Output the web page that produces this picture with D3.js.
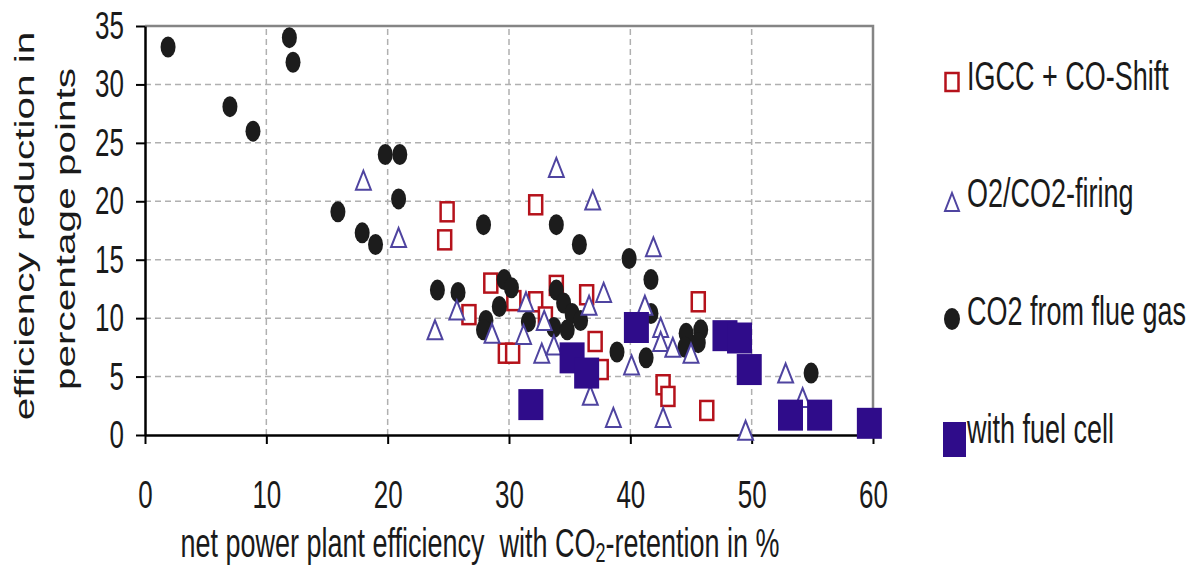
<!DOCTYPE html>
<html>
<head>
<meta charset="utf-8">
<script src="https://cdn.jsdelivr.net/npm/d3@7"></script>
<style>
  body { margin: 0; background: #fff; }
  text { font-family: "Liberation Sans", Arial, sans-serif; fill: #1a1a1a; }
</style>
</head>
<body>
<div id="chart"></div>
<script>
var width = 1192;
var height = 569;

// data: [efficiency %, reduction points]
var igcc = [[24.9,19.1],[24.7,16.7],[32.2,19.7],[28.5,13.0],[26.7,10.3],[29.7,7.0],[30.3,7.0],
  [30.4,11.5],[32.2,11.4],[33.0,10.1],[33.9,12.8],[36.4,12.0],[37.1,8.0],[37.6,5.6],
  [42.7,4.3],[43.1,3.3],[45.6,11.4],[46.3,2.1]];
var oxyfuel = [[18.0,21.8],[20.9,16.9],[23.9,9.0],[25.7,10.7],[28.6,8.7],[31.4,11.4],[31.2,8.6],
  [32.9,9.8],[32.7,7.0],[33.7,7.7],[33.9,22.9],[36.9,20.1],[36.6,11.1],[37.8,12.2],[36.7,3.4],
  [38.6,1.5],[41.9,16.1],[41.2,11.1],[42.5,9.2],[42.5,8.0],[40.1,6.0],[42.7,1.5],[43.5,7.5],
  [45.0,7.0],[49.5,0.4],[52.8,5.3],[54.2,3.2]];
var flueGas = [[1.9,33.2],[7.0,28.1],[8.9,26.0],[11.9,34.0],[12.2,31.9],[15.9,19.1],[17.9,17.3],
  [19.0,16.3],[19.8,24.0],[21.0,24.0],[20.9,20.2],[24.1,12.4],[25.8,12.2],[27.9,18.0],[28.1,9.8],
  [27.9,9.0],[29.2,11.0],[29.6,13.3],[30.2,12.6],[31.6,9.7],[33.9,18.0],[35.8,16.3],[33.9,12.4],
  [34.5,11.3],[33.7,9.2],[35.2,10.4],[35.9,9.8],[34.8,9.0],[38.9,7.1],[39.9,15.1],[41.7,13.3],
  [41.7,10.4],[41.3,6.6],[44.6,8.7],[44.5,7.5],[45.8,9.0],[45.6,7.9],[54.9,5.3]];
var fuelCell = [[31.8,2.6],[35.2,6.6],[36.4,5.3],[40.5,9.2],[47.8,8.5],[49.0,8.3],[49.8,5.6],
  [53.2,1.7],[55.6,1.7],[59.7,1.0]];

var xTicks = [0,10,20,30,40,50,60];
var yTicks = [0,5,10,15,20,25,30,35];
var legendLabels = ["IGCC + CO-Shift", "O2/CO2-firing", "CO2 from flue gas", "with fuel cell"];

var red = "#b5121b", violet = "#4f44a0", black = "#1c1c1c", indigo = "#2f0c8a";
var stretch = "scale(1,1.5)";

var svg = d3.select("#chart").append("svg")
  .attr("width", width)
  .attr("height", height);

var x = d3.scaleLinear().domain([0, 60]).range([145, 873]);
var y = d3.scaleLinear().domain([0, 35]).range([435, 26]);

// grid
svg.append("g").selectAll("line")
  .data(yTicks.filter(d => d > 0 && d < 35))
  .enter().append("line")
  .attr("x1", x(0)).attr("x2", x(60))
  .attr("y1", d => y(d)).attr("y2", d => y(d))
  .attr("stroke", "#b0b0b0").attr("stroke-width", 1.5)
  .attr("stroke-dasharray", "6,4");
svg.append("g").selectAll("line")
  .data(xTicks.filter(d => d > 0 && d < 60))
  .enter().append("line")
  .attr("x1", d => x(d)).attr("x2", d => x(d))
  .attr("y1", y(0)).attr("y2", y(35))
  .attr("stroke", "#b0b0b0").attr("stroke-width", 1.5)
  .attr("stroke-dasharray", "6,4");

// top and right frame
svg.append("path")
  .attr("d", "M" + x(0) + "," + y(35) + "H" + x(60) + "V" + y(0))
  .attr("fill", "none").attr("stroke", "#858585").attr("stroke-width", 2.5);

// axes
var yAxis = svg.append("g")
  .attr("transform", "translate(" + x(0) + ",0)")
  .call(d3.axisLeft(y).tickValues(yTicks).tickSize(9).tickSizeOuter(0));
var xAxis = svg.append("g")
  .attr("transform", "translate(0," + y(0) + ")")
  .call(d3.axisBottom(x).tickValues(xTicks).tickSize(9).tickSizeOuter(0));

[xAxis, yAxis].forEach(function(a) {
  a.select(".domain").attr("stroke", "#000").attr("stroke-width", 2.5);
  a.selectAll(".tick line").attr("stroke", "#000").attr("stroke-width", 2);
  a.selectAll("text").style("font-size", "26px").attr("fill", "#1a1a1a")
    .attr("font-family", null);
});
yAxis.selectAll("text").attr("x", -21).attr("dy", "0.32em").attr("transform", stretch);
xAxis.selectAll("text").attr("y", 49).attr("dy", 0).attr("transform", stretch);

// axis titles
var xt = svg.append("text")
  .attr("transform", "translate(480,557) " + stretch)
  .attr("text-anchor", "middle")
  .style("font-size", "27px");
xt.append("tspan").text("net power plant efficiency\u00a0 with CO");
xt.append("tspan").attr("dy", 3).style("font-size", "18px").text("2");
xt.append("tspan").attr("dy", -3).text("-retention in %");

svg.append("text")
  .attr("transform", "translate(34,226) rotate(-90) scale(1.5,1)")
  .attr("text-anchor", "middle")
  .style("font-size", "27px")
  .text("efficiency reduction in");
svg.append("text")
  .attr("transform", "translate(75,229) rotate(-90) scale(1.5,1)")
  .attr("text-anchor", "middle")
  .style("font-size", "27px")
  .text("percentage points");

// markers
var triPath = function(w, h) {
  return "M0," + (-h / 2) + "L" + (w / 2) + "," + (h / 2) + "L" + (-w / 2) + "," + (h / 2) + "Z";
};

svg.append("g").selectAll("rect")
  .data(igcc).enter().append("rect")
  .attr("x", d => x(d[0]) - 6.5).attr("y", d => y(d[1]) - 9.5)
  .attr("width", 13).attr("height", 19)
  .attr("fill", "#fff").attr("stroke", red).attr("stroke-width", 2.5);

svg.append("g").selectAll("ellipse")
  .data(flueGas).enter().append("ellipse")
  .attr("cx", d => x(d[0])).attr("cy", d => y(d[1]))
  .attr("rx", 7.5).attr("ry", 10.5)
  .attr("fill", black);

svg.append("g").selectAll("path")
  .data(oxyfuel).enter().append("path")
  .attr("transform", d => "translate(" + x(d[0]) + "," + y(d[1]) + ")")
  .attr("d", triPath(15, 19))
  .attr("fill", "#fff").attr("stroke", violet).attr("stroke-width", 2);

svg.append("g").selectAll("rect")
  .data(fuelCell).enter().append("rect")
  .attr("x", d => x(d[0]) - 12.5).attr("y", d => y(d[1]) - 15.5)
  .attr("width", 25).attr("height", 31)
  .attr("fill", indigo);

// legend
var legendY = [90, 207, 325, 443];
var lg = svg.append("g");
lg.append("rect").attr("x", 945.5).attr("y", 73).attr("width", 13).attr("height", 18)
  .attr("fill", "#fff").attr("stroke", red).attr("stroke-width", 2.5);
lg.append("path").attr("transform", "translate(952,202)").attr("d", triPath(14, 18))
  .attr("fill", "#fff").attr("stroke", violet).attr("stroke-width", 2);
lg.append("ellipse").attr("cx", 952).attr("cy", 319).attr("rx", 8).attr("ry", 11)
  .attr("fill", black);
lg.append("rect").attr("x", 943).attr("y", 422).attr("width", 23).attr("height", 35)
  .attr("fill", indigo);

lg.selectAll("text")
  .data(legendLabels).enter().append("text")
  .attr("transform", (d, i) => "translate(967," + legendY[i] + ") " + stretch)
  .style("font-size", "27px")
  .text(d => d);
</script>
</body>
</html>
